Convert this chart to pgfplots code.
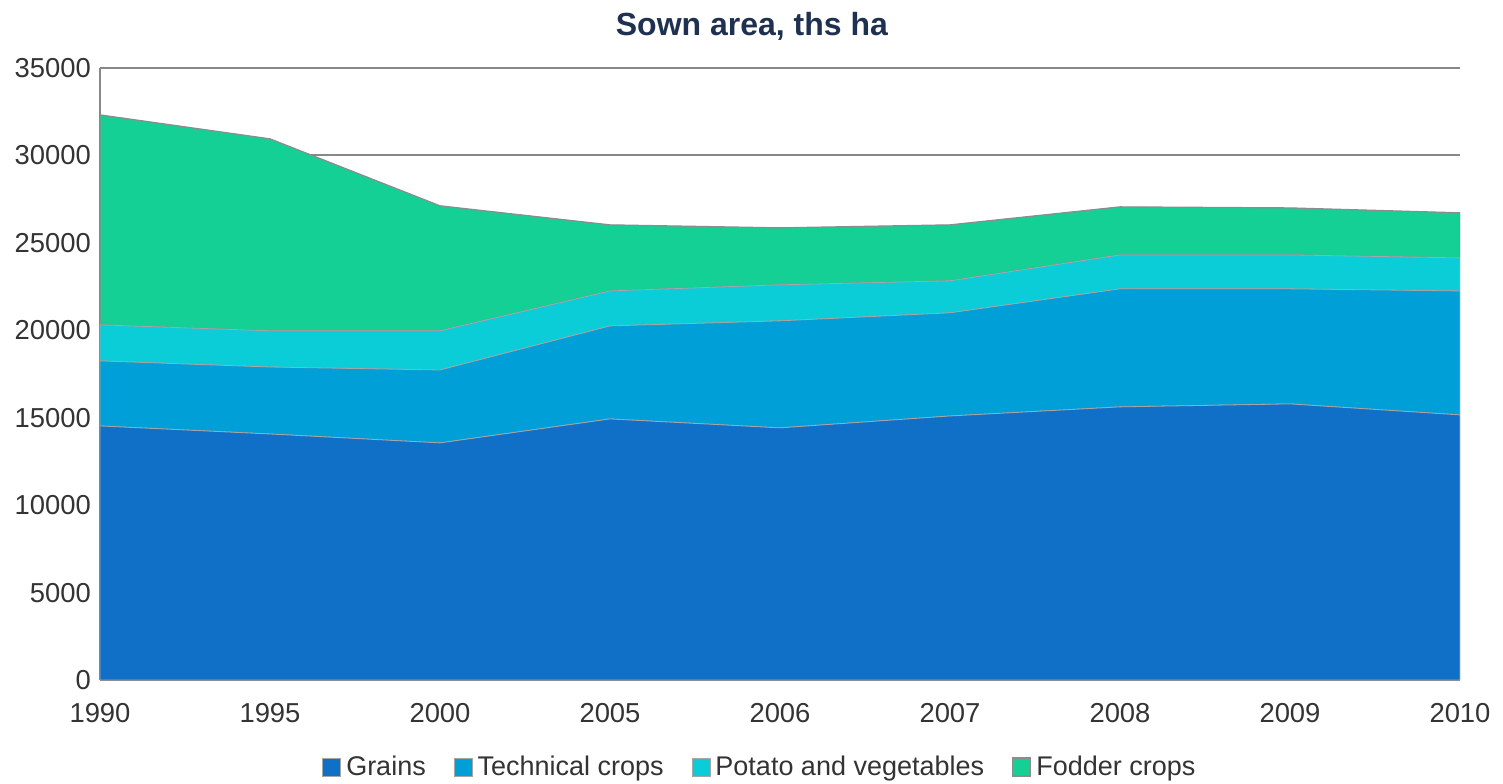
\documentclass[border=0pt]{standalone}
\usepackage{pgfplots}
\pgfplotsset{compat=1.18}
\usepackage{fontspec}
\setmainfont{Liberation Sans}
\definecolor{cGrain}{RGB}{16,112,200}
\definecolor{cTech}{RGB}{0,159,216}
\definecolor{cPot}{RGB}{10,205,216}
\definecolor{cFod}{RGB}{20,208,148}
\definecolor{cTitle}{RGB}{31,49,80}
\definecolor{cGrid}{RGB}{135,135,140}
\begin{document}
\begin{tikzpicture}
\begin{axis}[
  width=680pt, height=306pt, scale only axis,
  xmin=0, xmax=8, ymin=0, ymax=35000,
  xtick={0,...,8},
  xticklabels={1990,1995,2000,2005,2006,2007,2008,2009,2010},
  ytick={0,5000,...,35000},
  /pgf/number format/assume math mode=true,
  /pgf/number format/1000 sep={},
  scaled y ticks=false,
  major tick length=0pt,
  ymajorgrids, grid style={cGrid, line width=1pt},
  axis lines*=left,
  axis line style={cGrid, line width=1pt},
  tick label style={font=\fontsize{13.7}{15}\selectfont, text=black!80},
  xticklabel style={yshift=-8pt},
  yticklabel style={xshift=-1pt},
  title={\textbf{Sown area, ths ha}},
  title style={font=\fontsize{16}{18}\selectfont, text=cTitle, yshift=4pt, xshift=-14pt},
  stack plots=y,
  legend style={at={(0.486,-0.11)}, anchor=north, legend columns=-1, draw=none,
    font=\fontsize{13.5}{15}\selectfont, text=black!80,
    /tikz/every even column/.append style={column sep=12pt},
    /tikz/every odd column/.append style={column sep=0.5pt}},
  legend image code/.code={\fill[#1] (0pt,-4.5pt) rectangle (9pt,4.5pt);},
  legend cell align=left,
]
\addplot[draw=gray!70, line width=0.4pt, fill=cGrain] coordinates {(0,14530)(1,14070)(2,13560)(3,14930)(4,14420)(5,15100)(6,15620)(7,15790)(8,15160)} \closedcycle;
\addlegendentry{Grains}
\addplot[draw=gray!70, line width=0.4pt, fill=cTech] coordinates {(0,3720)(1,3830)(2,4170)(3,5320)(4,6120)(5,5900)(6,6750)(7,6580)(8,7090)} \closedcycle;
\addlegendentry{Technical crops}
\addplot[draw=gray!70, line width=0.4pt, fill=cPot] coordinates {(0,2060)(1,2070)(2,2240)(3,2000)(4,2060)(5,1830)(6,1940)(7,1940)(8,1890)} \closedcycle;
\addlegendentry{Potato and vegetables}
\addplot[draw=gray!90, line width=0.6pt, fill=cFod] coordinates {(0,12010)(1,10980)(2,7150)(3,3780)(4,3260)(5,3200)(6,2750)(7,2690)(8,2580)} \closedcycle;
\addlegendentry{Fodder crops}
\end{axis}
\pgfresetboundingbox
\path (current axis.south west) ++(-50pt,-51.5pt) rectangle ++(751.5pt,391.5pt);
\end{tikzpicture}
\end{document}
